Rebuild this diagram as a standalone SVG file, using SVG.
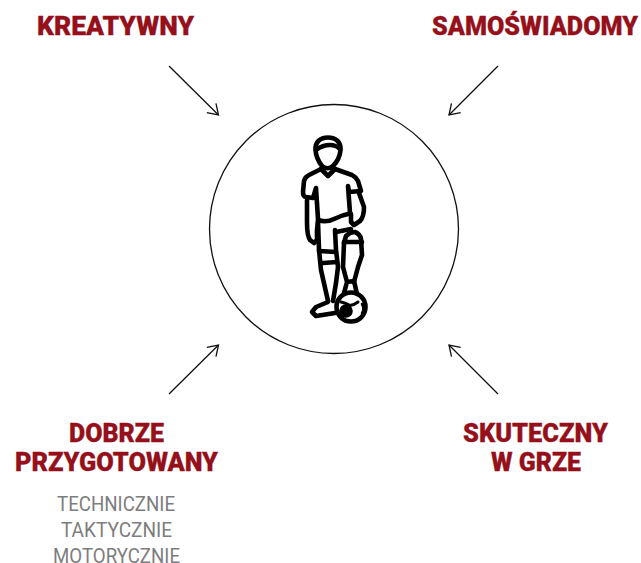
<svg xmlns="http://www.w3.org/2000/svg" width="641" height="563" viewBox="0 0 641 563">
<style>
.h{font-family:Roboto,"Liberation Sans",sans-serif;font-weight:900;font-size:26px;fill:#95101a;stroke:#95101a;stroke-width:.3}
.s{font-family:Roboto,"Liberation Sans",sans-serif;font-weight:400;font-size:21px;fill:#7d7d7d}
.c{fill:none;stroke:#111;stroke-width:1.3}
.p{fill:none;stroke:#000;stroke-width:4.6;stroke-linecap:round;stroke-linejoin:round}
</style>
<defs><marker id="a" markerUnits="userSpaceOnUse" markerWidth="18" markerHeight="18" refX="13" refY="9" orient="auto"><path d="M3 2.5 L13 9 L3 15.5" fill="none" stroke="#111" stroke-width="1.3"/></marker></defs>
<rect width="641" height="563" fill="#fff"/>
<g id="connectors">
<line class="c" x1="169" y1="66" x2="218.5" y2="115" marker-end="url(#a)"/>
<line class="c" x1="498" y1="66" x2="449" y2="115" marker-end="url(#a)"/>
<line class="c" x1="169" y1="394" x2="218.5" y2="345" marker-end="url(#a)"/>
<line class="c" x1="498" y1="394" x2="449" y2="345" marker-end="url(#a)"/>
</g>
<g id="center">
<circle cx="334" cy="229" r="124.5" fill="none" stroke="#111" stroke-width="1.3"/>
<g id="player" class="p">
<path d="M322 166C318 161 316 156 315.500 150C315 142 320 137.500 328 137.500C336 137.500 341 142 340.500 150C340 156 337 162 333 166C330 169 325 169 322 166Z"/>
<path d="M316 150C320 147 325 145 330 145C334 145 337 146 340 149"/>
<path d="M321 169L328 176L335 169"/>
<path d="M321 169L309 175Q305 177 304 181L303 192Q303 197 306 197L313 198L316 188L318 219"/>
<path d="M335 169L352 175Q356 177 358 181L361 191L349 192L348 186L350 213"/>
<path d="M318 220Q326 223 334 219Q342 215 350 213.500"/>
<path d="M307 200L307 222Q307 236 310 240L314 243L317 240L317 230L318 221"/>
<path d="M359 193L364 207Q364 217 360 221L354 225L351 222L351 214"/>
<path d="M318 222L319 250L321 270L328 301"/>
<path d="M335 230L336 250L338 267L336 283L333 301"/>
<path d="M319 251L336 252M323 263L337 262"/>
<path d="M328 302L316 307L312 312L316 316L335 313"/>
<path d="M336 232L351 229"/>
<path d="M344 243L346 236Q350 232 355 232Q360 234 361 239L362 255L358 267L354 282"/>
<path d="M344 242L362 242M344 243L343 267L347 282L344 293M347 282L354 281L357 294"/>
<circle cx="351" cy="307" r="14.500"/>
<circle cx="346" cy="311" r="4.500" fill="#000"/>
<path d="M341 302Q346 303 350 305.500Q354 305 358 302" stroke-width="3"/>
<path d="M362 304L364 309L362 313" fill="#000" stroke-width="2.500"/>
</g>
</g>
<g id="kreatywny"><text class="h" x="37" y="35" textLength="157" lengthAdjust="spacingAndGlyphs">KREATYWNY</text></g>
<g id="samoswiadomy"><text class="h" x="432" y="35" textLength="206" lengthAdjust="spacingAndGlyphs">SAMOŚWIADOMY</text></g>
<g id="dobrze">
<text class="h" x="69" y="442" textLength="95" lengthAdjust="spacingAndGlyphs">DOBRZE</text>
<text class="h" x="15" y="471" textLength="203" lengthAdjust="spacingAndGlyphs">PRZYGOTOWANY</text>
<text class="s" x="57" y="511" textLength="118" lengthAdjust="spacingAndGlyphs">TECHNICZNIE</text>
<text class="s" x="61" y="537" textLength="111" lengthAdjust="spacingAndGlyphs">TAKTYCZNIE</text>
<text class="s" x="53" y="562.800" textLength="127" lengthAdjust="spacingAndGlyphs">MOTORYCZNIE</text>
</g>
<g id="skuteczny">
<text class="h" x="463" y="442" textLength="145" lengthAdjust="spacingAndGlyphs">SKUTECZNY</text>
<text class="h" x="491" y="471" textLength="90" lengthAdjust="spacingAndGlyphs">W GRZE</text>
</g>
</svg>
